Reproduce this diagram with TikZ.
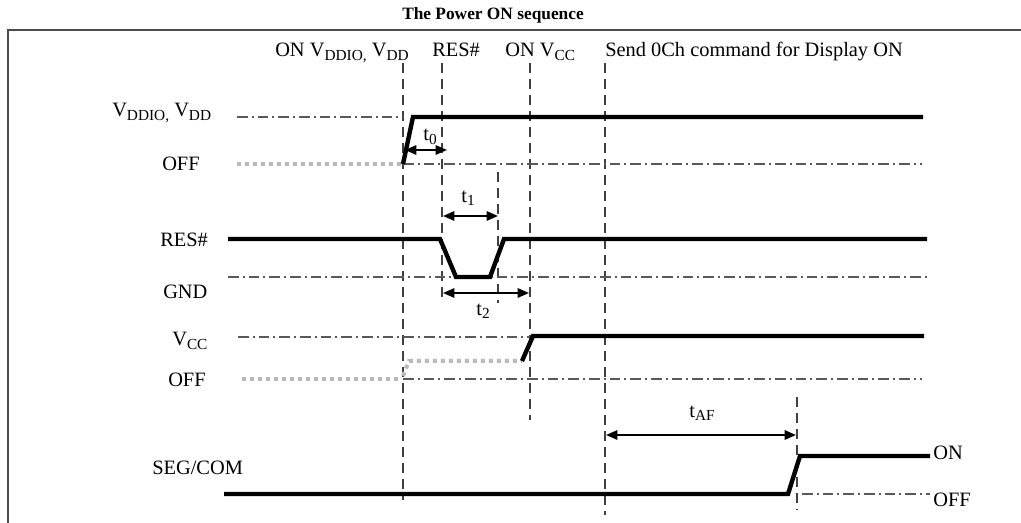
\documentclass[tikz,border=0pt]{standalone}
\usepackage{fontspec}
\setmainfont{Liberation Serif}
\usetikzlibrary{arrows.meta}
\newcommand{\lo}[1]{\raisebox{-2.6pt}{\fontsize{11.5}{12}\selectfont #1}}

\begin{document}
\begin{tikzpicture}[x=0.75pt,y=-0.75pt,
  lbl/.style={font=\fontsize{15.3}{18}\selectfont, inner sep=0pt},
  sig/.style={line width=3.3pt, black},
  offsig/.style={line width=3pt, gray!55, dash pattern=on 3pt off 3pt},
  refline/.style={line width=0.9pt, black!65, dash pattern=on 8pt off 3pt on 1.5pt off 3pt},
  guide/.style={line width=1.1pt, black!75, dash pattern=on 7.5pt off 4.5pt},
  span/.style={line width=1.4pt, {Triangle[length=8.5pt,width=7pt]}-{Triangle[length=8.5pt,width=7pt]}}
]
\useasboundingbox (0,0) rectangle (1021,523);

% Frame and title
\draw[line width=1.5pt, black!70] (8,523) -- (8,30) -- (1021,30);
\node[font=\bfseries\fontsize{13}{15}\selectfont, inner sep=0pt] (title) at (493,15) {The Power ON sequence};

% Events on top
\node[lbl, anchor=base west] (evdd) at (275,57) {ON V\lo{DDIO,} V\lo{DD}};
\node[lbl, anchor=base west] (eres) at (432,57) {RES\#};
\node[lbl, anchor=base west] (evcc) at (505,57) {ON V\lo{CC}};
\node[lbl, anchor=base west] (edisp) at (605,57) {Send 0Ch command for Display ON};

% Guides
\draw[guide] (403,63) -- (403,500);
\draw[guide] (442,63) -- (442,298);
\draw[guide] (498,172) -- (498,303);
\draw[guide] (530,63) -- (530,420);
\draw[guide] (605,63) -- (605,515);
\draw[guide] (797,397) -- (797,510);

% VDDIO, VDD
\node[lbl, anchor=base west] (lvdd) at (112,117) {V\lo{DDIO,} V\lo{DD}};
\node[lbl, anchor=base west] (loffa) at (162,171) {OFF};
\draw[refline] (237,117) -- (403,117);
\draw[offsig] (237,164) -- (402,164);
\draw[refline] (403,164) -- (922,164);
\draw[sig] (403,164) -- (413,117) -- (923,117);

% t0
\coordinate (t0a) at (405,150);
\coordinate (t0b) at (447,150);
\draw[span] (t0a) -- (t0b);
\node[lbl] (t0) at (430,137) {t\lo{0}};

% RES#
\node[lbl, anchor=base west] (lres) at (160,247) {RES\#};
\node[lbl, anchor=base west] (lgnd) at (163,299) {GND};
\draw[refline] (228,277) -- (927,277);
\draw[sig] (228,239) -- (440,239) -- (456,277) -- (490,277) -- (504,239) -- (927,239);

% t1, t2
\coordinate (t1a) at (443,216);
\coordinate (t1b) at (498,216);
\draw[span] (t1a) -- (t1b);
\node[lbl] (t1) at (468,198) {t\lo{1}};
\coordinate (t2a) at (443,293);
\coordinate (t2b) at (529,293);
\draw[span] (t2a) -- (t2b);
\node[lbl] (t2) at (483,311) {t\lo{2}};

% VCC
\node[lbl, anchor=base west] (lvcc) at (172,346) {V\lo{CC}};
\node[lbl, anchor=base west] (loffb) at (168,387) {OFF};
\draw[refline] (238,337) -- (530,337);
\draw[offsig] (242,379) -- (401,379);
\draw[refline] (403,379) -- (922,379);
\draw[offsig] (403,376) -- (409,361) -- (522,361);
\draw[sig] (522,361) -- (533,336) -- (924,336);

% SEG/COM
\node[lbl, anchor=base west] (lseg) at (152,475) {SEG/COM};
\draw[sig] (224,494) -- (788,494) -- (800,456) -- (930,456);
\draw[refline] (802,494) -- (930,494);
\node[lbl, anchor=base west] (lon) at (933,460) {ON};
\node[lbl, anchor=base west] (loffc) at (933,507) {OFF};

% tAF
\coordinate (tafa) at (606,435);
\coordinate (tafb) at (796,435);
\draw[span] (tafa) -- (tafb);
\node[lbl] (taf) at (702,413) {t\lo{AF}};

\end{tikzpicture}
\end{document}
